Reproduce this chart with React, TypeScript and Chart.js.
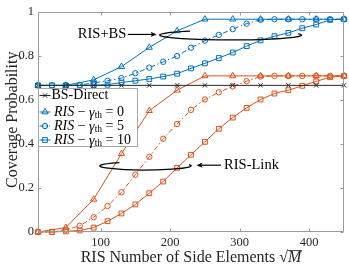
import React, { useEffect, useRef } from 'react';
import { Chart, registerables } from 'chart.js';

Chart.register(...registerables);

// ---------- data ----------
const X_FINE = [10, 30, 50, 70, 90, 110, 130, 150, 170, 190, 210, 230, 250, 270, 290, 310, 330, 350, 370, 390, 410, 430, 450];
const X_COARSE = [10, 50, 90, 130, 170, 210, 250, 290, 330, 370, 410, 450];

const BS_DIRECT = [0.665, 0.665, 0.665, 0.665, 0.665, 0.665, 0.665, 0.665, 0.665, 0.665, 0.665, 0.665];

const RIS_BS_G0 = [0.665, 0.665, 0.69, 0.75, 0.837, 0.912, 0.965, 0.965, 0.965, 0.965, 0.965, 0.965];
const RIS_BS_G5 = [0.665, 0.665, 0.665, 0.667, 0.676, 0.686, 0.698, 0.72, 0.745, 0.772, 0.798, 0.836, 0.868, 0.894, 0.92, 0.945, 0.962, 0.965, 0.965, 0.965, 0.965, 0.965, 0.965];
const RIS_BS_G10 = [0.665, 0.665, 0.665, 0.665, 0.666, 0.668, 0.678, 0.686, 0.694, 0.705, 0.718, 0.742, 0.765, 0.789, 0.814, 0.843, 0.869, 0.888, 0.903, 0.924, 0.941, 0.962, 0.965];

const RIS_LINK_G0 = [0, 0.02, 0.148, 0.355, 0.55, 0.643, 0.708, 0.708, 0.708, 0.708, 0.708, 0.708];
const RIS_LINK_G5 = [0, 0, 0.01, 0.028, 0.067, 0.118, 0.18, 0.26, 0.341, 0.423, 0.49, 0.554, 0.601, 0.634, 0.66, 0.684, 0.705, 0.708, 0.708, 0.708, 0.708, 0.708, 0.708];
const RIS_LINK_G10 = [0, 0, 0.003, 0.007, 0.02, 0.049, 0.084, 0.125, 0.176, 0.229, 0.291, 0.35, 0.409, 0.468, 0.519, 0.563, 0.601, 0.628, 0.643, 0.663, 0.683, 0.702, 0.708];

const X_TICKS = [100, 200, 300, 400];
const Y_TICKS = [0, 0.2, 0.4, 0.6, 0.8, 1];

const GAMMAS = ['0', '5', '10'];
const LEGEND_FIRST = 'BS-Direct';
const X_TITLE = 'RIS Number of Side Elements ';
const Y_TITLE = 'Coverage Probability';
const ANNOT_BS = 'RIS+BS';
const ANNOT_LINK = 'RIS-Link';

// ---------- styles ----------
const FONT = "'Liberation Serif', 'Times New Roman', serif";
const BLUE = '#0072BD';
const ORANGE = '#D95319';
const BLACK = '#262626';
const DASHDOT = [5, 2.5, 1.5, 2.5];
const NOFILL = 'rgba(0,0,0,0)';

const pts = (xs: number[], ys: number[]) => xs.map((x, i) => ({ x, y: ys[i] }));

function series(label: string, xs: number[], ys: number[], color: string, style: string, radius: number, dash: number[]) {
  return {
    label,
    data: pts(xs, ys),
    borderColor: color,
    borderWidth: 1,
    borderDash: dash,
    pointStyle: style,
    pointRadius: radius,
    pointBorderColor: color,
    pointBackgroundColor: NOFILL,
    pointBorderWidth: 1,
    tension: 0,
    fill: false,
    clip: false as any,
  };
}

function drawMarker(ctx: CanvasRenderingContext2D, style: string, x: number, y: number, r: number, color: string) {
  ctx.save();
  ctx.setLineDash([]);
  ctx.strokeStyle = color;
  ctx.lineWidth = 1;
  ctx.beginPath();
  if (style === 'triangle') {
    ctx.moveTo(x, y - r);
    ctx.lineTo(x + r * 0.866, y + r * 0.5);
    ctx.lineTo(x - r * 0.866, y + r * 0.5);
    ctx.closePath();
  } else if (style === 'circle') {
    ctx.arc(x, y, r, 0, Math.PI * 2);
  } else if (style === 'rect') {
    const s = r * Math.SQRT1_2;
    ctx.rect(x - s, y - s, 2 * s, 2 * s);
  } else {
    const s = r * Math.SQRT1_2;
    ctx.moveTo(x - s, y - s);
    ctx.lineTo(x + s, y + s);
    ctx.moveTo(x + s, y - s);
    ctx.lineTo(x - s, y + s);
  }
  ctx.stroke();
  ctx.restore();
}

function arrow(ctx: CanvasRenderingContext2D, x1: number, y1: number, x2: number, y2: number) {
  ctx.save();
  ctx.strokeStyle = '#000';
  ctx.fillStyle = '#000';
  ctx.lineWidth = 1.2;
  ctx.setLineDash([]);
  const dir = Math.sign(x2 - x1);
  ctx.beginPath();
  ctx.moveTo(x1, y1);
  ctx.lineTo(x2 - dir * 4, y2);
  ctx.stroke();
  ctx.beginPath();
  ctx.moveTo(x2, y2);
  ctx.lineTo(x2 - dir * 6, y2 - 2.6);
  ctx.lineTo(x2 - dir * 4.5, y2);
  ctx.lineTo(x2 - dir * 6, y2 + 2.6);
  ctx.closePath();
  ctx.fill();
  ctx.restore();
}

const decor = {
  id: 'decor',
  afterDraw(chart: any) {
    const ctx: CanvasRenderingContext2D = chart.ctx;
    const { left, right, top, bottom } = chart.chartArea;
    const xs = chart.scales.x;
    const ys = chart.scales.y;
    ctx.save();

    // frame + inward ticks
    ctx.strokeStyle = '#9a9a9a';
    ctx.lineWidth = 1;
    ctx.setLineDash([]);
    const L = Math.round(left) + 0.5, R = Math.round(right) - 0.5;
    const T = Math.round(top) + 0.5, B = Math.round(bottom) - 0.5;
    ctx.beginPath();
    ctx.rect(L, T, R - L, B - T);
    for (const v of X_TICKS) {
      const px = Math.round(xs.getPixelForValue(v)) + 0.5;
      ctx.moveTo(px, B); ctx.lineTo(px, B - 3);
      ctx.moveTo(px, T); ctx.lineTo(px, T + 3);
    }
    for (const v of Y_TICKS) {
      const py = Math.round(ys.getPixelForValue(v)) + 0.5;
      ctx.moveTo(L, py); ctx.lineTo(L + 3, py);
      ctx.moveTo(R, py); ctx.lineTo(R - 3, py);
    }
    ctx.stroke();

    // axis titles
    ctx.fillStyle = BLACK;
    ctx.textBaseline = 'middle';
    ctx.textAlign = 'left';
    ctx.font = `16px ${FONT}`;
    const w1 = ctx.measureText(X_TITLE).width;
    const w2 = ctx.measureText('√').width;
    ctx.font = `italic 16px ${FONT}`;
    const w3 = ctx.measureText('M').width;
    const tot = w1 + w2 + w3;
    const cx = (left + right) / 2;
    const ty = 258;
    let x0 = cx - tot / 2;
    ctx.font = `16px ${FONT}`;
    ctx.fillText(X_TITLE, x0, ty);
    ctx.fillText('√', x0 + w1, ty);
    ctx.font = `italic 16px ${FONT}`;
    ctx.fillText('M', x0 + w1 + w2, ty);
    ctx.strokeStyle = BLACK;
    ctx.lineWidth = 0.8;
    ctx.beginPath();
    ctx.moveTo(x0 + w1 + w2 - 0.5, ty - 7.5);
    ctx.lineTo(x0 + w1 + w2 + w3 + 0.5, ty - 7.5);
    ctx.stroke();

    ctx.save();
    ctx.translate(13, (top + bottom) / 2 - 2);
    ctx.rotate(-Math.PI / 2);
    ctx.textAlign = 'center';
    ctx.font = `16px ${FONT}`;
    ctx.fillText(Y_TITLE, 0, 0);
    ctx.restore();

    // annotations
    ctx.fillStyle = '#000';
    ctx.font = `14.5px ${FONT}`;
    ctx.textAlign = 'right';
    ctx.fillText(ANNOT_BS, xs.getPixelForValue(137), ys.getPixelForValue(0.897));
    arrow(ctx, xs.getPixelForValue(139), ys.getPixelForValue(0.896), xs.getPixelForValue(180.5), ys.getPixelForValue(0.896));
    ctx.textAlign = 'left';
    ctx.fillText(ANNOT_LINK, xs.getPixelForValue(277.6), ys.getPixelForValue(0.303));
    arrow(ctx, xs.getPixelForValue(273), ys.getPixelForValue(0.303), xs.getPixelForValue(238), ys.getPixelForValue(0.303));

    const ell = (cxv: number, cyv: number, rxv: number, ryv: number) => {
      const ecx = xs.getPixelForValue(cxv);
      const ecy = ys.getPixelForValue(cyv);
      const erx = Math.abs(xs.getPixelForValue(cxv + rxv) - ecx);
      const ery = Math.abs(ys.getPixelForValue(cyv + ryv) - ecy);
      ctx.save();
      ctx.strokeStyle = '#000';
      ctx.lineWidth = 1.3;
      ctx.beginPath();
      ctx.ellipse(ecx, ecy, erx, ery, 0, (235 * Math.PI) / 180, (-18 * Math.PI) / 180, true);
      ctx.stroke();
      ctx.restore();
    };
    ell(287, 0.893, 102, 0.022);
    ell(164.7, 0.300, 65.7, 0.018);

    // legend
    const lx = Math.round(left) + 0.5, lt = 88.5, lw = 99, lh = 58;
    ctx.fillStyle = '#fff';
    ctx.fillRect(lx, lt, lw, lh);
    ctx.strokeStyle = '#a6a6a6';
    ctx.lineWidth = 1;
    ctx.strokeRect(lx, lt, lw, lh);
    const rows = [95.5, 112, 126, 140];
    const ds = chart.data.datasets;
    const entries = [ds[0], ds[1], ds[2], ds[3]];
    entries.forEach((d: any, i: number) => {
      const ry = rows[i];
      ctx.save();
      ctx.strokeStyle = d.borderColor;
      ctx.lineWidth = 1;
      ctx.setLineDash(d.borderDash && d.borderDash.length ? [2.5, 1.2, 1, 1.2] : []);
      ctx.beginPath();
      ctx.moveTo(lx + 1, ry);
      ctx.lineTo(lx + 12, ry);
      ctx.stroke();
      ctx.restore();
      drawMarker(ctx, d.pointStyle, lx + 6.5, ry, d.pointRadius, d.borderColor);
      ctx.fillStyle = '#000';
      ctx.textAlign = 'left';
      ctx.textBaseline = 'middle';
      if (i === 0) {
        ctx.font = `14px ${FONT}`;
        ctx.fillText(LEGEND_FIRST, lx + 13, ry);
      } else {
        let x = lx + 15.5;
        ctx.font = `italic 14px ${FONT}`;
        ctx.fillText('RIS', x, ry);
        x += ctx.measureText('RIS').width;
        ctx.font = `14px ${FONT}`;
        ctx.fillText(' − ', x, ry);
        x += ctx.measureText(' − ').width;
        ctx.font = `italic 14px ${FONT}`;
        ctx.fillText('γ', x, ry + 1);
        x += ctx.measureText('γ').width;
        ctx.font = `9.5px ${FONT}`;
        ctx.fillText('th', x, ry + 3.5);
        x += ctx.measureText('th').width;
        ctx.font = `14px ${FONT}`;
        ctx.fillText(' = ' + GAMMAS[i - 1], x, ry);
      }
    });
    ctx.restore();
  },
};

export default function App() {
  const ref = useRef<HTMLCanvasElement>(null);
  useEffect(() => {
    if (!ref.current) return;
    const chart = new Chart(ref.current, {
      type: 'line',
      data: {
        datasets: [
          series(LEGEND_FIRST, X_COARSE, BS_DIRECT, BLACK, 'crossRot', 3, []),
          series('RIS+BS γ=0', X_COARSE, RIS_BS_G0, BLUE, 'triangle', 3.6, []),
          series('RIS+BS γ=5', X_FINE, RIS_BS_G5, BLUE, 'circle', 2.7, DASHDOT),
          series('RIS+BS γ=10', X_FINE, RIS_BS_G10, BLUE, 'rect', 3.4, []),
          series('RIS-Link γ=0', X_COARSE, RIS_LINK_G0, ORANGE, 'triangle', 3.6, []),
          series('RIS-Link γ=5', X_FINE, RIS_LINK_G5, ORANGE, 'circle', 2.7, DASHDOT),
          series('RIS-Link γ=10', X_FINE, RIS_LINK_G10, ORANGE, 'rect', 3.4, []),
        ] as any,
      },
      options: {
        animation: false,
        responsive: false,
        devicePixelRatio: 1,
        layout: { padding: { top: 6, right: 4, left: 0, bottom: 0 } },
        plugins: { legend: { display: false }, tooltip: { enabled: false } },
        scales: {
          x: {
            type: 'linear',
            min: 10,
            max: 450,
            grid: { display: false, drawTicks: false },
            border: { display: false },
            afterBuildTicks: (s: any) => { s.ticks = X_TICKS.map((v) => ({ value: v })); },
            afterFit: (s: any) => { s.height = 37; },
            ticks: { font: { family: FONT, size: 12.5 }, color: BLACK, padding: 3, maxRotation: 0, autoSkip: false },
          },
          y: {
            type: 'linear',
            min: 0,
            max: 1,
            grid: { display: false, drawTicks: false },
            border: { display: false },
            afterBuildTicks: (s: any) => { s.ticks = Y_TICKS.map((v) => ({ value: v })); },
            afterFit: (s: any) => { s.width = 38; },
            ticks: {
              font: { family: FONT, size: 12.5 },
              color: BLACK,
              padding: 4,
              autoSkip: false,
              callback: (v: any) => String(Math.round(Number(v) * 10) / 10),
            },
          },
        },
      } as any,
      plugins: [decor],
    });
    return () => chart.destroy();
  }, []);
  return (
    <div style={{ position: 'fixed', left: 0, top: 0, width: 349, height: 269, background: '#fff' }}>
      <canvas ref={ref} width={349} height={269} style={{ display: 'block', width: 349, height: 269 }} />
    </div>
  );
}
